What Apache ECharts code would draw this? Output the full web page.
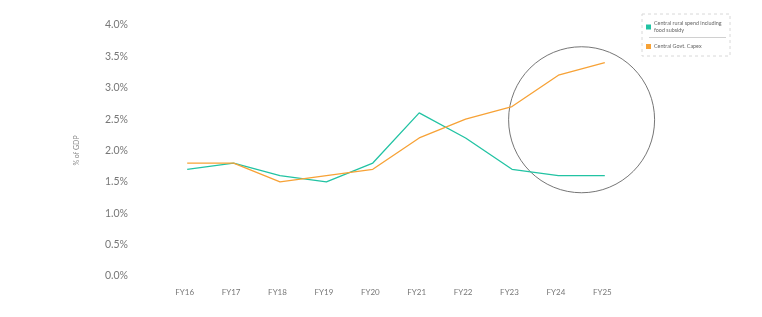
<!DOCTYPE html>
<html><head><meta charset="utf-8">
<script src="https://cdn.jsdelivr.net/npm/echarts@6/dist/echarts.min.js"></script>
<style>html,body{margin:0;padding:0;background:#fff}#c{width:762px;height:317px}</style>
</head><body><div id="c"></div>
<script>
var categories = ['FY16','FY17','FY18','FY19','FY20','FY21','FY22','FY23','FY24','FY25'];
var ruralSpend = [1.7, 1.8, 1.6, 1.5, 1.8, 2.6, 2.2, 1.7, 1.6, 1.6];
var govtCapex  = [1.8, 1.8, 1.5, 1.6, 1.7, 2.2, 2.5, 2.7, 3.2, 3.4];
var seriesNames = ['Central rural spend including food subsidy', 'Central Govt. Capex'];
var yTicks = {min: 0, max: 4, interval: 0.5};
var highlight = {x: 8.5, y: 2.49};

var font = 'Lato, "Open Sans", sans-serif';
var chart = echarts.init(document.getElementById('c'), null, {renderer: 'canvas'});
chart.setOption({
  animation: false,
  textStyle: {fontFamily: font},
  grid: {left: 164, right: 134, top: 25, bottom: 41},
  legend: {
    orient: 'vertical', right: 32, top: 14,
    padding: [6, 4, 6, 4],
    itemGap: 9,
    itemWidth: 5, itemHeight: 5,
    icon: 'rect',
    borderColor: '#d8d8d8', borderWidth: 1, borderType: [3, 3],
    textStyle: {fontSize: 5.4, color: '#666', fontFamily: font, width: 72, overflow: 'break', lineHeight: 7, padding: [0,0,0,-2]},
    data: seriesNames
  },
  xAxis: {
    type: 'category', data: categories, boundaryGap: true,
    axisLine: {show: false}, axisTick: {show: false},
    axisLabel: {color: '#777', fontSize: 8, margin: 12, fontFamily: font, padding: [0, 5, 0, 0]}
  },
  yAxis: {
    type: 'value', min: yTicks.min, max: yTicks.max, interval: yTicks.interval,
    name: '% of GDP', nameLocation: 'middle', nameGap: 84, nameRotate: 90,
    nameTextStyle: {color: '#888', fontSize: 7, fontFamily: font},
    splitLine: {show: false}, axisLine: {show: false}, axisTick: {show: false},
    axisLabel: {color: '#777', fontSize: 10.5, margin: 36, fontFamily: font,
      formatter: function (v) { return v.toFixed(1) + '%'; }}
  },
  series: [
    {name: seriesNames[0], type: 'line', data: ruralSpend, symbol: 'none',
     lineStyle: {color: '#22c3a3', width: 1.3}, itemStyle: {color: '#22c3a3'}},
    {name: seriesNames[1], type: 'line', data: govtCapex, symbol: 'none',
     lineStyle: {color: '#f7a236', width: 1.3}, itemStyle: {color: '#f7a236'}}
  ]
});
var p0 = chart.convertToPixel({gridIndex: 0}, [8, highlight.y]);
var p1 = chart.convertToPixel({gridIndex: 0}, [9, highlight.y]);
var cx = (p0[0] + p1[0]) / 2;
chart.setOption({
  graphic: [
    {type: 'circle', shape: {cx: cx, cy: p0[1], r: 73}, style: {fill: 'none', stroke: '#666', lineWidth: 0.9}, silent: true},
    {type: 'line', shape: {x1: 649, y1: 37.5, x2: 726, y2: 37.5}, style: {stroke: '#bbb', lineWidth: 0.7}, silent: true}
  ]
});
</script>
</body></html>
